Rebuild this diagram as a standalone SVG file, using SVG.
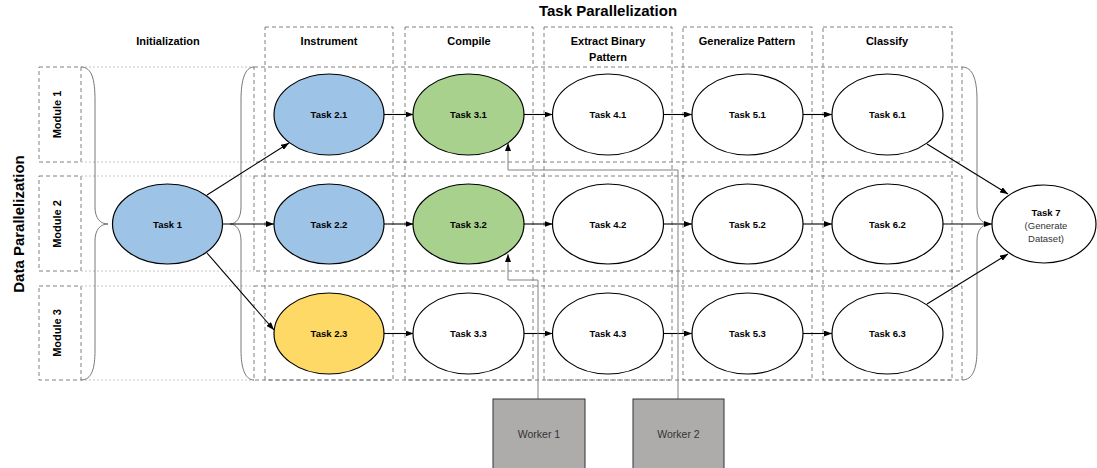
<svg xmlns="http://www.w3.org/2000/svg" width="1097" height="468" viewBox="0 0 1097 468">
<style>
.col{fill:none;stroke:#808080;stroke-width:1;stroke-dasharray:4,3}
.row{fill:none;stroke:#808080;stroke-width:1;stroke-dasharray:4,3}
.lite{fill:none;stroke:#b8b8b8;stroke-width:0.8;stroke-dasharray:2,2}
.brace{fill:none;stroke:#555;stroke-width:0.8}
.task{stroke:#000;stroke-width:1.2}
.tt{font-family:"Liberation Sans",Arial,sans-serif;font-size:9.5px;font-weight:bold;fill:#000;text-anchor:middle}
.hd{font-family:"Liberation Sans",Arial,sans-serif;font-size:11px;font-weight:bold;fill:#000;text-anchor:middle}
.big{font-family:"Liberation Sans",Arial,sans-serif;font-size:15px;font-weight:bold;fill:#000;text-anchor:middle}
.wk{font-family:"Liberation Sans",Arial,sans-serif;font-size:10.5px;fill:#333;text-anchor:middle}
.sub{font-family:"Liberation Sans",Arial,sans-serif;font-size:9.5px;fill:#333;text-anchor:middle}
.conn{fill:none;stroke:#000;stroke-width:1.1}
.wconn{fill:none;stroke:#808080;stroke-width:1}
</style>
<defs>
<marker id="ah" markerWidth="8" markerHeight="6" refX="8" refY="3" orient="auto" markerUnits="userSpaceOnUse">
<path d="M0,0 L8,3 L0,6 Z" fill="#000"/>
</marker>
</defs>
<g id="frames">
<rect class="col" x="265" y="27" width="128" height="353"/>
<rect class="col" x="405" y="27" width="128" height="353"/>
<rect class="col" x="544" y="27" width="128" height="353"/>
<rect class="col" x="683" y="27" width="129" height="353"/>
<rect class="col" x="823" y="27" width="129" height="353"/>
<rect class="row" x="39" y="67" width="42" height="95"/>
<rect class="row" x="39" y="176" width="42" height="95"/>
<rect class="row" x="39" y="286" width="42" height="94"/>
<rect class="row" x="254" y="67" width="708" height="95"/>
<rect class="row" x="254" y="176" width="708" height="95"/>
<rect class="row" x="254" y="286" width="708" height="94"/>
<path class="lite" d="M81,67 H254 M81,162 H254 M81,176 H254 M81,271 H254 M81,286 H254 M81,380 H254"/>
<path class="brace" d="M81,67 C92,67 95,80 95,100 L95,207 C95,218 100,224 108,224 C100,224 95,230 95,241 L95,350 C95,368 92,380 81,380"/>
<path class="brace" d="M254,67 C245,67 241,80 241,100 L241,207 C241,218 236,224 230,224 C236,224 241,230 241,241 L241,350 C241,368 245,380 254,380"/>
<path class="brace" d="M962,67 C973,67 977,80 977,100 L977,207 C977,218 982,224 990,224 C982,224 977,230 977,241 L977,350 C977,368 973,380 962,380"/>
</g>
<g id="labels">
<text class="big" x="608" y="16">Task Parallelization</text>
<text class="big" transform="translate(24,224) rotate(-90)" x="0" y="0">Data Parallelization</text>
<text class="hd" x="168" y="45">Initialization</text>
<text class="hd" x="329" y="45">Instrument</text>
<text class="hd" x="469" y="45">Compile</text>
<text class="hd" x="608" y="45">Extract Binary</text>
<text class="hd" x="608" y="61">Pattern</text>
<text class="hd" x="747" y="45">Generalize Pattern</text>
<text class="hd" x="887" y="45">Classify</text>
<text class="hd" transform="translate(61,114.5) rotate(-90)" x="0" y="0">Module 1</text>
<text class="hd" transform="translate(61,224) rotate(-90)" x="0" y="0">Module 2</text>
<text class="hd" transform="translate(61,333) rotate(-90)" x="0" y="0">Module 3</text>
</g>
<g id="connectors">
<line class="conn" x1="207" y1="195" x2="289" y2="143" marker-end="url(#ah)"/>
<line class="conn" x1="222" y1="224" x2="274" y2="224" marker-end="url(#ah)"/>
<line class="conn" x1="207" y1="253" x2="274" y2="330" marker-end="url(#ah)"/>
<line class="conn" x1="384" y1="114.5" x2="413.5" y2="114.5" marker-end="url(#ah)"/>
<line class="conn" x1="524" y1="114.5" x2="552.5" y2="114.5" marker-end="url(#ah)"/>
<line class="conn" x1="663" y1="114.5" x2="692" y2="114.5" marker-end="url(#ah)"/>
<line class="conn" x1="803" y1="114.5" x2="832" y2="114.5" marker-end="url(#ah)"/>
<line class="conn" x1="384" y1="224" x2="413.5" y2="224" marker-end="url(#ah)"/>
<line class="conn" x1="524" y1="224" x2="552.5" y2="224" marker-end="url(#ah)"/>
<line class="conn" x1="663" y1="224" x2="692" y2="224" marker-end="url(#ah)"/>
<line class="conn" x1="803" y1="224" x2="832" y2="224" marker-end="url(#ah)"/>
<line class="conn" x1="384" y1="333.5" x2="413.5" y2="333.5" marker-end="url(#ah)"/>
<line class="conn" x1="524" y1="333.5" x2="552.5" y2="333.5" marker-end="url(#ah)"/>
<line class="conn" x1="663" y1="333.5" x2="692" y2="333.5" marker-end="url(#ah)"/>
<line class="conn" x1="803" y1="333.5" x2="832" y2="333.5" marker-end="url(#ah)"/>
<line class="conn" x1="927" y1="144" x2="1008" y2="194" marker-end="url(#ah)"/>
<line class="conn" x1="943" y1="224" x2="992" y2="224" marker-end="url(#ah)"/>
<line class="conn" x1="927" y1="304" x2="1008" y2="254" marker-end="url(#ah)"/>
<path class="wconn" d="M538,399 V280 H508 V254" marker-end="url(#ah)"/>
<path class="wconn" d="M678,399 V170 H508 V143" marker-end="url(#ah)"/>
</g>
<g id="task1"><ellipse class="task" cx="167.5" cy="224" rx="55" ry="40" fill="#9DC3E6"/><text class="tt" x="167.5" y="227.5">Task 1</text></g>
<g id="task21"><ellipse class="task" cx="329" cy="114.5" rx="55" ry="40.5" fill="#9DC3E6"/><text class="tt" x="329" y="118">Task 2.1</text></g>
<g id="task22"><ellipse class="task" cx="329" cy="224" rx="55" ry="40" fill="#9DC3E6"/><text class="tt" x="329" y="227.5">Task 2.2</text></g>
<g id="task23"><ellipse class="task" cx="329" cy="333.5" rx="55" ry="40.5" fill="#FFD966"/><text class="tt" x="329" y="337">Task 2.3</text></g>
<g id="task31"><ellipse class="task" cx="468.5" cy="114.5" rx="55.5" ry="40.5" fill="#A9D18E"/><text class="tt" x="468.5" y="118">Task 3.1</text></g>
<g id="task32"><ellipse class="task" cx="468.5" cy="224" rx="55.5" ry="40" fill="#A9D18E"/><text class="tt" x="468.5" y="227.5">Task 3.2</text></g>
<g id="task33"><ellipse class="task" cx="468.5" cy="333.5" rx="55.5" ry="40.5" fill="#fff"/><text class="tt" x="468.5" y="337">Task 3.3</text></g>
<g id="task41"><ellipse class="task" cx="608" cy="114.5" rx="55.5" ry="40.5" fill="#fff"/><text class="tt" x="608" y="118">Task 4.1</text></g>
<g id="task42"><ellipse class="task" cx="608" cy="224" rx="55.5" ry="40" fill="#fff"/><text class="tt" x="608" y="227.5">Task 4.2</text></g>
<g id="task43"><ellipse class="task" cx="608" cy="333.5" rx="55.5" ry="40.5" fill="#fff"/><text class="tt" x="608" y="337">Task 4.3</text></g>
<g id="task51"><ellipse class="task" cx="747.5" cy="114.5" rx="55.5" ry="40.5" fill="#fff"/><text class="tt" x="747.5" y="118">Task 5.1</text></g>
<g id="task52"><ellipse class="task" cx="747.5" cy="224" rx="55.5" ry="40" fill="#fff"/><text class="tt" x="747.5" y="227.5">Task 5.2</text></g>
<g id="task53"><ellipse class="task" cx="747.5" cy="333.5" rx="55.5" ry="40.5" fill="#fff"/><text class="tt" x="747.5" y="337">Task 5.3</text></g>
<g id="task61"><ellipse class="task" cx="887.5" cy="114.5" rx="55.5" ry="40.5" fill="#fff"/><text class="tt" x="887.5" y="118">Task 6.1</text></g>
<g id="task62"><ellipse class="task" cx="887.5" cy="224" rx="55.5" ry="40" fill="#fff"/><text class="tt" x="887.5" y="227.5">Task 6.2</text></g>
<g id="task63"><ellipse class="task" cx="887.5" cy="333.5" rx="55.5" ry="40.5" fill="#fff"/><text class="tt" x="887.5" y="337">Task 6.3</text></g>
<g id="task7"><ellipse class="task" cx="1044" cy="224" rx="52" ry="39" fill="#fff"/><text class="tt" x="1046" y="215.5">Task 7</text><text class="sub" x="1046" y="228.5">(Generate</text><text class="sub" x="1046" y="241.5">Dataset)</text></g>
<g id="worker1"><rect x="493" y="399" width="92" height="75" fill="#AEABAB" stroke="#333" stroke-width="1"/><text class="wk" x="539" y="438">Worker 1</text></g>
<g id="worker2"><rect x="633" y="399" width="91" height="75" fill="#AEABAB" stroke="#333" stroke-width="1"/><text class="wk" x="678.5" y="438">Worker 2</text></g>
</svg>
